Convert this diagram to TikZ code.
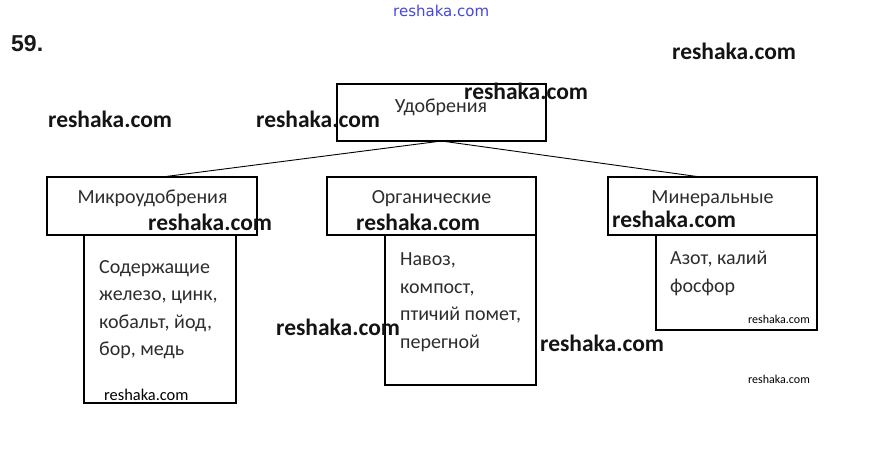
\documentclass[tikz,border=0pt]{standalone}
\usepackage{fontspec}
\setmainfont{Carlito}
\newfontfamily\wmfont{Carlito}
\newfontfamily\numfont{Liberation Sans}
\newfontfamily\bluefont{DejaVu Sans}
\usetikzlibrary{calc}
\definecolor{txt}{RGB}{45,45,45}
\definecolor{wmblue}{RGB}{70,70,225}
\begin{document}
\begin{tikzpicture}[x=1pt,y=-1pt,
  box/.style={draw=black, line width=1.8pt, inner sep=0pt, outer sep=0pt},
  conn/.style={draw=black, line width=0.9pt},
  head/.style={anchor=base, inner sep=0pt, text=txt, font=\fontsize{20}{24}\selectfont},
  list/.style={anchor=north west, align=left, inner sep=0pt, text=txt, font=\fontsize{20}{27.5}\selectfont},
  wm/.style={anchor=west, inner sep=0pt, text=black!92, font=\wmfont\bfseries\fontsize{23.5}{28}\selectfont},
  wmsmall/.style={anchor=west, inner sep=0pt, text=black, font=\wmfont\fontsize{#1}{#1}\selectfont},
  wmblue/.style={anchor=west, inner sep=0pt, text=wmblue, font=\bluefont\fontsize{15}{18}\selectfont}]
\useasboundingbox (0,0) rectangle (881,458);
\fill[white] (0,0) rectangle (881,458);

% boxes
\node[box, minimum width=209pt, minimum height=57pt] (udo) at (441.5,112.5) {};
\node[box, minimum width=210pt, minimum height=58pt] (mikro) at (152,206) {};
\node[box, minimum width=152pt, minimum height=168pt] (mikrosub) at (160,319) {};
\node[box, minimum width=209pt, minimum height=58pt] (org) at (431.5,206) {};
\node[box, minimum width=151pt, minimum height=150pt] (orgsub) at (460.5,310) {};
\node[box, minimum width=209pt, minimum height=58pt] (min) at (712.5,206) {};
\node[box, minimum width=161pt, minimum height=95pt] (minsub) at (736.5,282.5) {};

% connectors
\draw[conn] (udo.south) -- ($(mikro.north)+(10,0)$);
\draw[conn] (udo.south) -- ($(min.north)+(-12,0)$);

% labels
\node[head] (t0) at (441,112) {Удобрения};
\node[head] (t1) at (152.5,203) {Микроудобрения};
\node[head] (t2) at (431.5,203) {Органические};
\node[head] (t3) at (712.5,203) {Минеральные};

\node[list] (l1) at (99,260) {Содержащие\\железо, цинк,\\кобальт, йод,\\бор, медь};
\node[list] (l2) at (400,252.5) {Навоз,\\компост,\\птичий помет,\\перегной};
\node[list] (l3) at (670,251) {Азот, калий\\фосфор};

% number and watermarks
\node[anchor=west, inner sep=0pt, text=black!90, font=\numfont\bfseries\fontsize{23}{26}\selectfont] (num) at (11,44) {59.};
\node[wmblue] (wb) at (393,11) {reshaka.com};
\node[wm] (w1) at (672,51) {reshaka.com};
\node[wm] (w2) at (48,119) {reshaka.com};
\node[wm] (w3) at (256,119) {reshaka.com};
\node[wm] (w4) at (464,91) {reshaka.com};
\node[wm] (w5) at (148,222) {reshaka.com};
\node[wm] (w6) at (356,222) {reshaka.com};
\node[wm] (w7) at (612,219) {reshaka.com};
\node[wm] (w8) at (276,327) {reshaka.com};
\node[wm] (w9) at (540,343) {reshaka.com};
\node[wmsmall=16.4] (s1) at (104,395) {reshaka.com};
\node[wmsmall=12] (s2) at (748,319) {reshaka.com};
\node[wmsmall=12] (s3) at (748,379) {reshaka.com};
\end{tikzpicture}
\end{document}
